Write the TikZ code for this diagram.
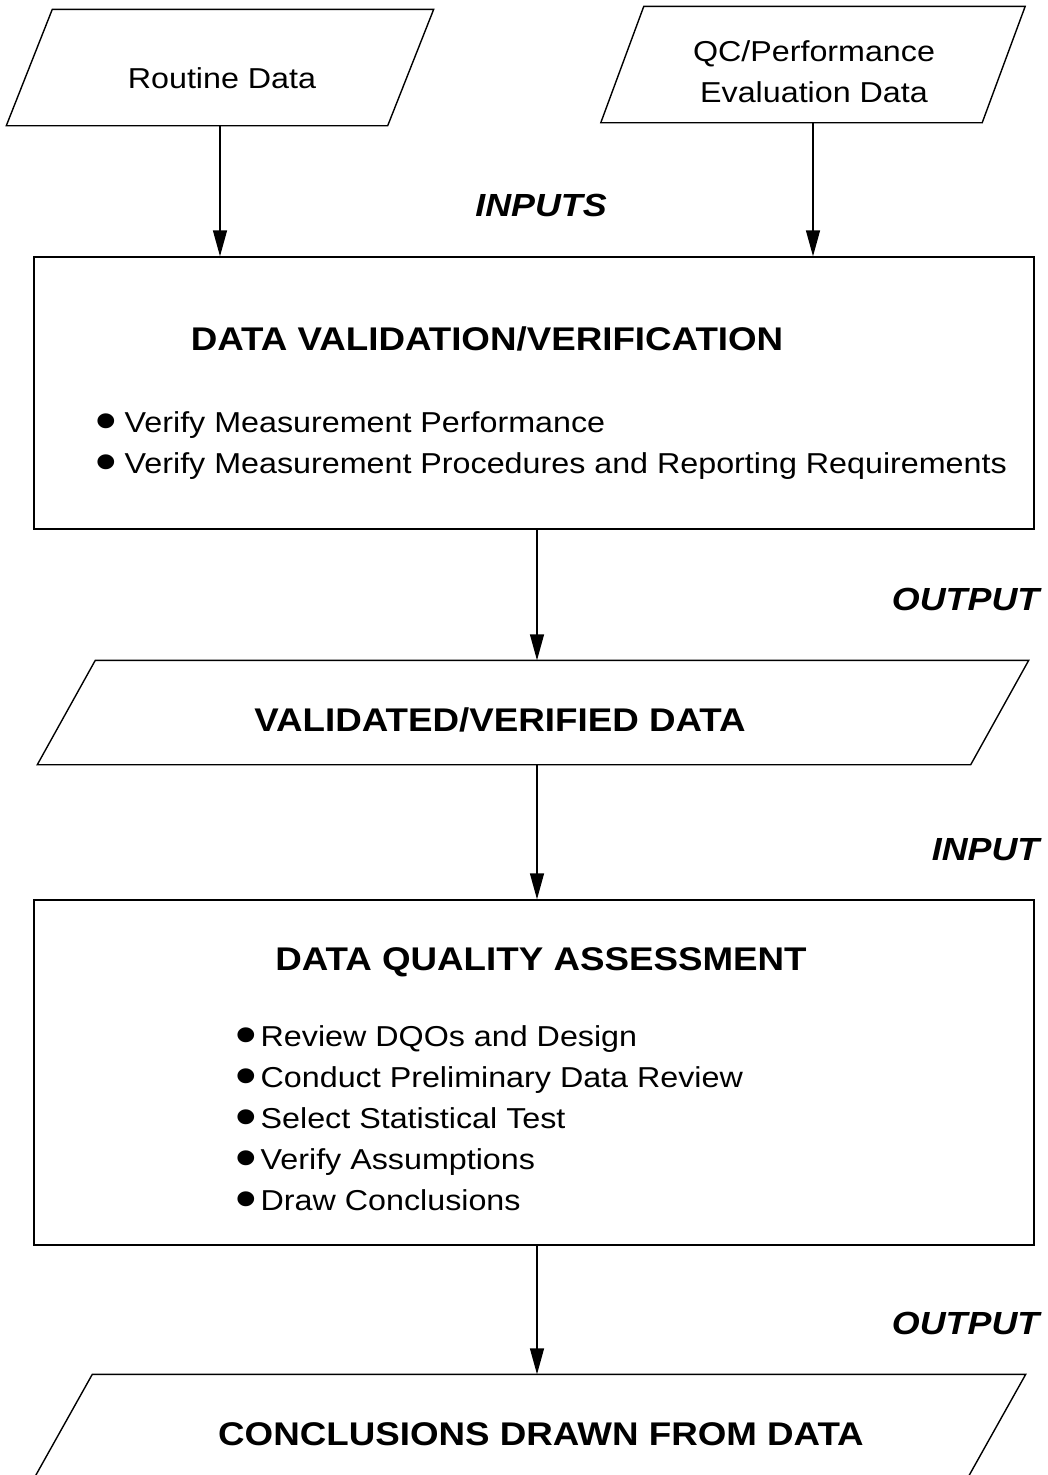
\documentclass[tikz,border=0pt]{standalone}
\usepackage{fontspec}
\setmainfont{Liberation Sans}[FakeStretch=1.12]
\usetikzlibrary{arrows.meta}
\newcommand\blt[1]{\makebox[#1][l]{\smash{\raisebox{-7.5pt}{\fontsize{55}{55}\selectfont•}}}}
\newcommand\drawpara[2]{\draw ([xshift=#2pt]#1.north west) -- ([xshift=#2pt]#1.north east) -- ([xshift=-#2pt]#1.south east) -- ([xshift=-#2pt]#1.south west) -- cycle;}
\begin{document}
\begin{tikzpicture}[x=1pt,y=-1pt,
  line width=1.4pt,
  core/.style={rectangle, inner sep=0pt},
  boxx/.style={draw, rectangle, inner sep=0pt, minimum width=1000pt},
  lbl/.style={inner sep=0pt, font=\fontsize{28.8}{41}\selectfont},
  ttl/.style={inner sep=0pt, font=\fontsize{32.8}{38}\selectfont\bfseries},
  tag/.style={inner sep=0pt, font=\fontsize{32}{38}\selectfont\bfseries\itshape},
  arr/.style={-{Triangle[length=26pt,width=14pt]}, line width=1.4pt}]
\useasboundingbox (0,0) rectangle (1048,1475);
\clip (0,0) rectangle (1048,1475);
% shapes
\node[core, minimum width=380pt, minimum height=115pt] (routine) at (220,67.5) {};
\node[core, minimum width=380pt, minimum height=115pt] (qc) at (813,64.5) {};
\node[boxx, minimum height=272pt] (valid) at (534,393) {};
\node[core, minimum width=932pt, minimum height=103pt] (vdata) at (533,712.5) {};
\node[boxx, minimum height=345pt] (dqa) at (534,1072.5) {};
\node[core, minimum width=932pt, minimum height=104pt] (concl) at (529.5,1427) {};
\drawpara{routine}{23}
\drawpara{qc}{21.5}
\drawpara{vdata}{29}
\drawpara{concl}{29.5}
% texts
\node[lbl, anchor=base] (troutine) at (222,88) {Routine Data};
\node[lbl, anchor=base, align=center] (tqc) at (814,102) {QC/Performance\\Evaluation Data};
\node[tag, anchor=base] (inputs) at (541,216) {INPUTS};
\node[ttl, anchor=base] (tvalid) at (487,350) {DATA VALIDATION/VERIFICATION};
\node[lbl, anchor=base west, align=left] (lvalid) at (95,473) {\blt{29pt}Verify Measurement Performance\\\blt{29pt}Verify Measurement Procedures and Reporting Requirements};
\node[tag, anchor=base east] (out1) at (1040,610) {OUTPUT};
\node[ttl, anchor=base] (tvdata) at (500,731) {VALIDATED/VERIFIED DATA};
\node[tag, anchor=base east] (in2) at (1040,860) {INPUT};
\node[ttl, anchor=base] (tdqa) at (541,970) {DATA QUALITY ASSESSMENT};
\node[lbl, anchor=base west, align=left] (ldqa) at (235,1210) {\blt{25pt}Review DQOs and Design\\\blt{25pt}Conduct Preliminary Data Review\\\blt{25pt}Select Statistical Test\\\blt{25pt}Verify Assumptions\\\blt{25pt}Draw Conclusions};
\node[tag, anchor=base east] (out2) at (1040,1334) {OUTPUT};
\node[ttl, anchor=base] (tconcl) at (541,1445) {CONCLUSIONS DRAWN FROM DATA};
% connectors
\draw[arr] (routine.south) -- (routine.south |- valid.north);
\draw[arr] (qc.south) -- (qc.south |- valid.north);
\draw[arr] ([xshift=3pt]valid.south) -- ([xshift=3pt]valid.south |- vdata.north);
\draw[arr] ([xshift=4pt]vdata.south) -- ([xshift=4pt]vdata.south |- dqa.north);
\draw[arr] ([xshift=3pt]dqa.south) -- ([xshift=3pt]dqa.south |- concl.north);
\end{tikzpicture}
\end{document}
